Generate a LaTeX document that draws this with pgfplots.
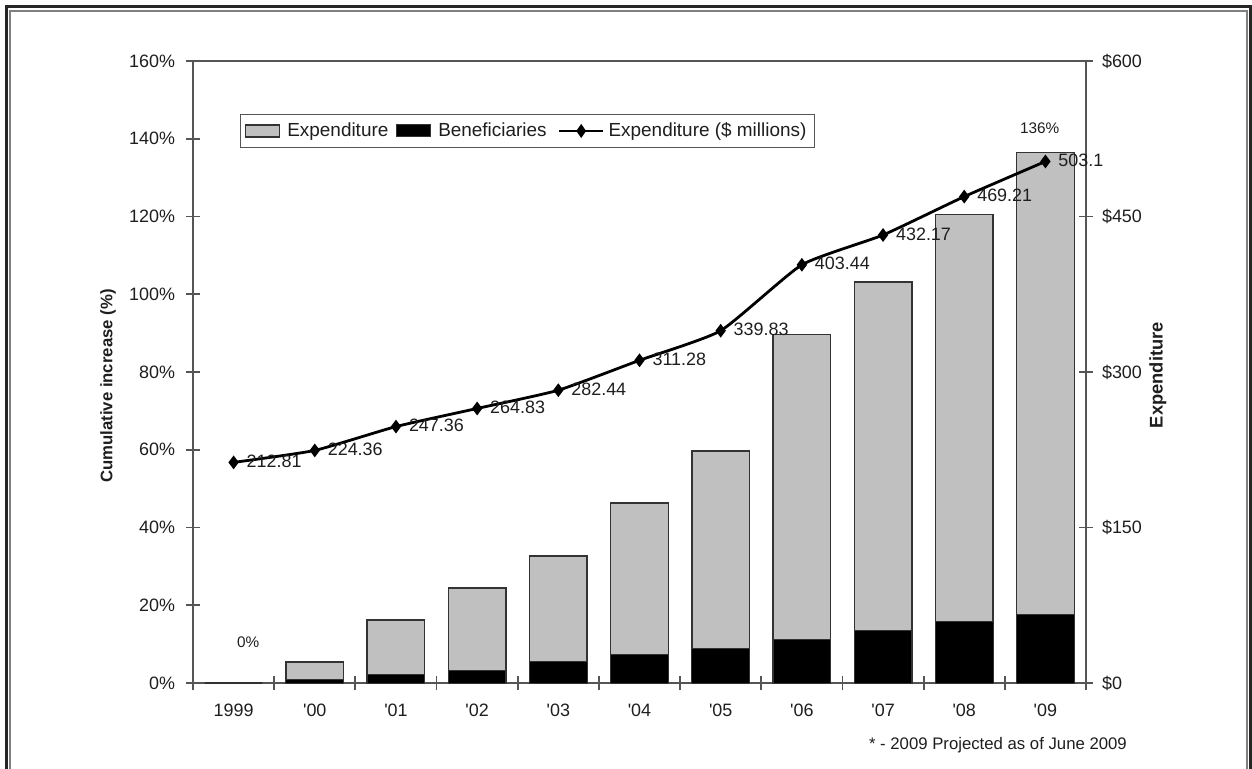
\documentclass[border=0pt]{standalone}
\usepackage{fontspec}
\setmainfont{Liberation Sans}
\usepackage{pgfplots}
\pgfplotsset{compat=1.18}

\definecolor{barfill}{HTML}{C0C0C0}
\definecolor{barline}{HTML}{333333}
\definecolor{axisgray}{HTML}{555555}
\definecolor{txt}{HTML}{1E1E1E}

% cumulative increase (%) of expenditure and of beneficiaries
\pgfplotstableread{
x  exp   ben
0  0.0   0.0
1  5.4   0.8
2  16.2  2.2
3  24.4  3.3
4  32.7  5.5
5  46.3  7.3
6  59.7  8.9
7  89.6  11.2
8  103.1 13.4
9  120.5 15.7
10 136.4 17.7
}\pctdata

% expenditure in $ millions
\pgfplotstableread{
x  val    lab
0  212.81 212.81
1  224.36 224.36
2  247.36 247.36
3  264.83 264.83
4  282.44 282.44
5  311.28 311.28
6  339.83 339.83
7  403.44 403.44
8  432.17 432.17
9  469.21 469.21
10 503.1  503.1
}\expdata

\pgfplotsset{
  common/.style={
    at={(96.5bp,43bp)}, anchor=south west,
    scale only axis, width=446.5bp, height=311bp,
    xmin=-0.5, xmax=10.5,
    axis line style={draw=axisgray, line width=0.9bp},
    tick style={draw=axisgray, line width=0.9bp},
    tick align=center,
    major tick length=7bp,
    minor tick length=7bp,
    /pgf/number format/assume math mode=true,
    tick label style={font=\fontsize{9}{10.8}\selectfont, text=txt},
  },
}

\begin{document}
\begin{tikzpicture}
\useasboundingbox (0bp,0bp) rectangle (626bp,384.5bp);
% page frame, open at the bottom
\draw[line width=1.5bp, black!85] (3bp,0bp) -- (3bp,381.25bp) -- (625bp,381.25bp) -- (625bp,0bp);
\draw[line width=0.75bp, gray] (5bp,0bp) -- (5bp,379bp) -- (623.5bp,379bp) -- (623.5bp,0bp);

% left axis: bars
\begin{axis}[
  common,
  ymin=0, ymax=160,
  axis y line*=left,
  axis x line*=bottom,
  ytick={0,20,...,160},
  yticklabel={\pgfmathprintnumber{\tick}\%},
  xtick={0,...,10},
  xticklabels={1999,\textquotesingle00,\textquotesingle01,\textquotesingle02,\textquotesingle03,\textquotesingle04,\textquotesingle05,\textquotesingle06,\textquotesingle07,\textquotesingle08,\textquotesingle09},
  major x tick style={draw=none},
  minor xtick={-0.5,0.5,...,10.5},
  xticklabel style={yshift=-3.5bp},
  yticklabel style={xshift=-2bp},
  ylabel={Cumulative increase (\%)},
  ylabel style={at={(axis description cs:-0.095,0.4775)}, anchor=center,
    font=\fontsize{8.4}{10}\selectfont\bfseries, text=txt},
  clip=false,
]
\addplot[ybar, bar width=0.71, bar shift=0pt, fill=barfill, draw=barline, line width=0.7bp]
  table[x=x, y=exp] {\pctdata};
\addplot[ybar, bar width=0.71, bar shift=0pt, fill=black, draw=barline, line width=0.5bp]
  table[x=x, y=ben] {\pctdata};
\node[font=\fontsize{7.7}{9}\selectfont, text=txt] at (axis cs:0.18,10.4) {0\%};
\node[font=\fontsize{7.7}{9}\selectfont, text=txt] at (axis cs:9.93,142.8) {136\%};
% plot area frame
\draw[axisgray, line width=0.6bp] (rel axis cs:0,1) -- (rel axis cs:1,1);
\end{axis}

% right axis: expenditure line
\begin{axis}[
  common,
  ymin=0, ymax=600,
  axis x line=none,
  axis y line*=right,
  ytick={0,150,300,450,600},
  yticklabel={\$\pgfmathprintnumber{\tick}},
  yticklabel style={xshift=1bp},
  ylabel={Expenditure},
  ylabel style={at={(axis description cs:1.0806,0.495)}, anchor=center,
    font=\fontsize{9.2}{11}\selectfont\bfseries, text=txt},
  legend columns=3,
  legend style={
    at={(axis description cs:0.0526,0.915)}, anchor=north west,
    draw=axisgray, line width=0.6bp,
    font=\fontsize{9.5}{11}\selectfont, text=txt,
    inner xsep=2bp, inner ysep=2bp,
    /tikz/every even column/.append style={column sep=1.6bp},
  },
  clip=false,
]
\addlegendimage{legend image code/.code={\draw[fill=barfill, draw=barline, line width=0.6bp] (0bp,-3bp) rectangle (17bp,3bp);
  \path (18.8bp,0bp);}}
\addlegendentry{Expenditure}
\addlegendimage{legend image code/.code={\draw[fill=black, draw=barline, line width=0.5bp] (0bp,-3bp) rectangle (17bp,3bp);
  \path (18.8bp,0bp);}}
\addlegendentry{Beneficiaries}
\addplot[black, line width=1.4bp, smooth, tension=0.3,
  mark=diamond*, mark size=2.3bp, mark options={solid, fill=black},
  nodes near coords, point meta=explicit symbolic,
  every node near coord/.append style={anchor=west, xshift=2.5bp, yshift=0.5bp,
    font=\fontsize{9}{10.8}\selectfont, text=txt},
  legend image code/.code={\path (-2bp,0bp);
    \draw[black, line width=1.4bp] (0bp,0bp) -- (22bp,0bp);
    \fill[black] (11bp,0bp) +(0bp,2.3bp) -- +(1.6bp,0bp) -- +(0bp,-2.3bp) -- +(-1.6bp,0bp) -- cycle;},
] table[x=x, y=val, meta=lab] {\expdata};
\addlegendentry{Expenditure (\$ millions)}
\end{axis}

\node[anchor=west, font=\fontsize{8.4}{10}\selectfont, text=txt] at (431bp,12bp) {* - 2009 Projected as of June 2009};
\end{tikzpicture}
\end{document}
